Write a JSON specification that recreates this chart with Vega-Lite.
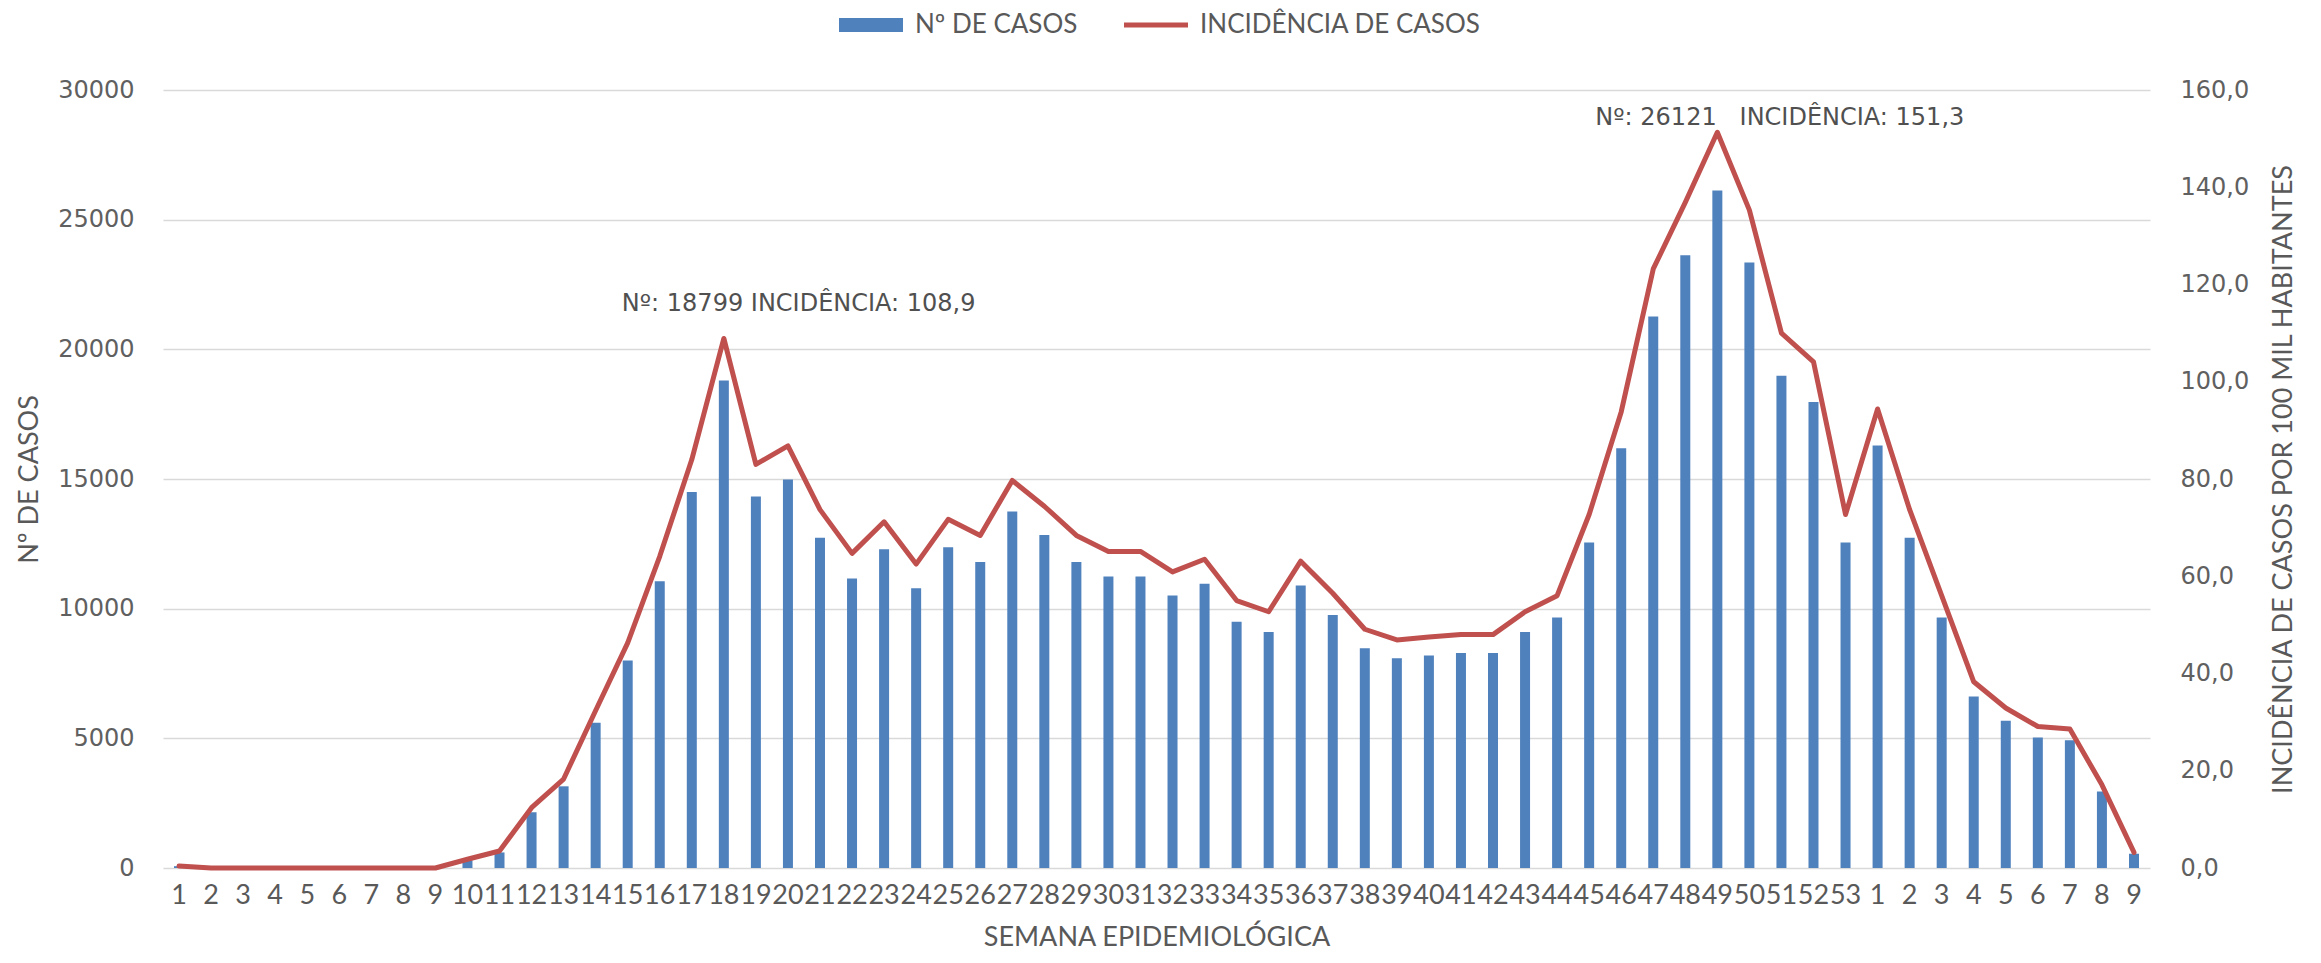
{
  "$schema": "https://vega.github.io/schema/vega-lite/v6.json",
  "width": 1987,
  "height": 778,
  "autosize": {"type": "none"},
  "padding": {"left": 163, "top": 90, "right": 171, "bottom": 95},
  "background": "white",
  "config": {"view": {"stroke": null}, "font": "Lato"},
  "data": {
    "values": [
      {"sem": "A1", "casos": 70, "incidencia": 0.4},
      {"sem": "A2", "casos": 0, "incidencia": 0},
      {"sem": "A3", "casos": 0, "incidencia": 0},
      {"sem": "A4", "casos": 0, "incidencia": 0},
      {"sem": "A5", "casos": 0, "incidencia": 0},
      {"sem": "A6", "casos": 0, "incidencia": 0},
      {"sem": "A7", "casos": 0, "incidencia": 0},
      {"sem": "A8", "casos": 0, "incidencia": 0},
      {"sem": "A9", "casos": 0, "incidencia": 0},
      {"sem": "A10", "casos": 300, "incidencia": 1.8},
      {"sem": "A11", "casos": 600, "incidencia": 3.5},
      {"sem": "A12", "casos": 2150, "incidencia": 12.4},
      {"sem": "A13", "casos": 3150, "incidencia": 18.3},
      {"sem": "A14", "casos": 5600, "incidencia": 32.4},
      {"sem": "A15", "casos": 8000, "incidencia": 46.3},
      {"sem": "A16", "casos": 11060, "incidencia": 64.1},
      {"sem": "A17", "casos": 14500, "incidencia": 84.0},
      {"sem": "A18", "casos": 18799, "incidencia": 108.9, "rotulo": "Nº: 18799 INCIDÊNCIA: 108,9"},
      {"sem": "A19", "casos": 14330, "incidencia": 83.0},
      {"sem": "A20", "casos": 14980, "incidencia": 86.8},
      {"sem": "A21", "casos": 12730, "incidencia": 73.7},
      {"sem": "A22", "casos": 11160, "incidencia": 64.7},
      {"sem": "A23", "casos": 12290, "incidencia": 71.2},
      {"sem": "A24", "casos": 10790, "incidencia": 62.5},
      {"sem": "A25", "casos": 12370, "incidencia": 71.7},
      {"sem": "A26", "casos": 11800, "incidencia": 68.4},
      {"sem": "A27", "casos": 13750, "incidencia": 79.7},
      {"sem": "A28", "casos": 12840, "incidencia": 74.4},
      {"sem": "A29", "casos": 11800, "incidencia": 68.4},
      {"sem": "A30", "casos": 11240, "incidencia": 65.1},
      {"sem": "A31", "casos": 11240, "incidencia": 65.1},
      {"sem": "A32", "casos": 10510, "incidencia": 60.9},
      {"sem": "A33", "casos": 10960, "incidencia": 63.5},
      {"sem": "A34", "casos": 9500, "incidencia": 55.0},
      {"sem": "A35", "casos": 9100, "incidencia": 52.7},
      {"sem": "A36", "casos": 10890, "incidencia": 63.1},
      {"sem": "A37", "casos": 9760, "incidencia": 56.5},
      {"sem": "A38", "casos": 8470, "incidencia": 49.1},
      {"sem": "A39", "casos": 8090, "incidencia": 46.9},
      {"sem": "A40", "casos": 8190, "incidencia": 47.5},
      {"sem": "A41", "casos": 8290, "incidencia": 48.0},
      {"sem": "A42", "casos": 8290, "incidencia": 48.0},
      {"sem": "A43", "casos": 9100, "incidencia": 52.7},
      {"sem": "A44", "casos": 9660, "incidencia": 56.0},
      {"sem": "A45", "casos": 12550, "incidencia": 72.7},
      {"sem": "A46", "casos": 16190, "incidencia": 93.8},
      {"sem": "A47", "casos": 21270, "incidencia": 123.2},
      {"sem": "A48", "casos": 23630, "incidencia": 136.9},
      {"sem": "A49", "casos": 26121, "incidencia": 151.3, "rotulo": "Nº: 26121\u00a0\u00a0\u00a0INCIDÊNCIA: 151,3"},
      {"sem": "A50", "casos": 23350, "incidencia": 135.3},
      {"sem": "A51", "casos": 18980, "incidencia": 110.0},
      {"sem": "A52", "casos": 17970, "incidencia": 104.1},
      {"sem": "A53", "casos": 12550, "incidencia": 72.7},
      {"sem": "B1", "casos": 16290, "incidencia": 94.4},
      {"sem": "B2", "casos": 12730, "incidencia": 73.7},
      {"sem": "B3", "casos": 9660, "incidencia": 56.0},
      {"sem": "B4", "casos": 6610, "incidencia": 38.3},
      {"sem": "B5", "casos": 5680, "incidencia": 32.9},
      {"sem": "B6", "casos": 5030, "incidencia": 29.1},
      {"sem": "B7", "casos": 4930, "incidencia": 28.6},
      {"sem": "B8", "casos": 2950, "incidencia": 17.1},
      {"sem": "B9", "casos": 550, "incidencia": 3.2}
    ]
  },
  "encoding": {
    "x": {
      "field": "sem",
      "type": "nominal",
      "sort": null,
      "scale": {"paddingInner": 0, "paddingOuter": 0},
      "axis": {
        "title": "SEMANA EPIDEMIOLÓGICA",
        "labelExpr": "slice(datum.value, 1)",
        "labelAngle": 0,
        "labelFont": "Lato",
        "labelFontSize": 27,
        "labelColor": "#595959",
        "labelOverlap": false,
        "labelBound": false,
        "labelPadding": 14,
        "ticks": false,
        "domain": false,
        "grid": false,
        "titleFont": "Lato",
        "titleFontSize": 27,
        "titleFontWeight": "normal",
        "titleColor": "#595959",
        "titlePadding": 16
      }
    }
  },
  "layer": [
    {
      "mark": {"type": "bar", "width": 10},
      "encoding": {
        "y": {
          "field": "casos",
          "type": "quantitative",
          "scale": {"domain": [0, 30000]},
          "axis": {
            "title": "Nº DE CASOS",
            "values": [0, 5000, 10000, 15000, 20000, 25000, 30000],
            "format": "d",
            "labelFont": "DejaVu Sans",
            "labelFontSize": 24,
            "labelColor": "#606060",
            "labelPadding": 29,
            "ticks": false,
            "domain": false,
            "grid": true,
            "gridColor": "#d9d9d9",
            "gridWidth": 1.5,
            "titleFont": "Lato",
            "titleFontSize": 27,
            "titleFontWeight": "normal",
            "titleColor": "#595959",
            "titlePadding": 14
          }
        },
        "color": {
          "datum": "Nº DE CASOS",
          "type": "nominal",
          "scale": {"domain": ["Nº DE CASOS", "INCIDÊNCIA DE CASOS"], "range": ["#4f81bd", "#c0504d"]},
          "legend": {
            "orient": "none",
            "legendX": 676,
            "legendY": -97,
            "direction": "horizontal",
            "title": null,
            "labelFont": "Lato",
            "labelFontSize": 26,
            "labelColor": "#595959",
            "labelLimit": 0,
            "labelOffset": 12,
            "columnPadding": 46,
            "symbolSize": 4096,
            "symbolType": "M-1,-0.22H1V0.22H-1Z",
            "symbolStrokeWidth": 0,
            "encode": {
              "symbols": {
                "update": {
                  "shape": {"signal": "datum.value === 'Nº DE CASOS' ? 'M-1,-0.22H1V0.22H-1Z' : 'M-1,-0.08H1V0.08H-1Z'"},
                  "fill": {"signal": "datum.value === 'Nº DE CASOS' ? '#4f81bd' : '#c0504d'"},
                  "stroke": {"value": "transparent"},
                  "opacity": {"value": 1}
                }
              }
            }
          }
        }
      }
    },
    {
      "layer": [
        {
          "mark": {"type": "line", "strokeWidth": 5, "strokeJoin": "round", "strokeCap": "round"},
          "encoding": {
            "y": {
              "field": "incidencia",
              "type": "quantitative",
              "scale": {"domain": [0, 160]},
              "axis": {
                "orient": "right",
                "title": "INCIDÊNCIA DE CASOS POR 100 MIL HABITANTES",
                "values": [0, 20, 40, 60, 80, 100, 120, 140, 160],
                "labelExpr": "replace(format(datum.value, '.1f'), '.', ',')",
                "labelFont": "DejaVu Sans",
                "labelFontSize": 24,
                "labelColor": "#606060",
                "labelPadding": 30,
                "ticks": false,
                "domain": false,
                "grid": false,
                "titleFont": "Lato",
                "titleFontSize": 27,
                "titleFontWeight": "normal",
                "titleColor": "#595959",
                "titleAngle": 270,
                "titleBaseline": "top",
                "titlePadding": 22
              }
            },
            "color": {"datum": "INCIDÊNCIA DE CASOS", "type": "nominal"}
          }
        },
        {
          "transform": [{"filter": "datum.sem === 'A18'"}],
          "mark": {"type": "text", "align": "left", "baseline": "middle", "dx": -102, "dy": -34, "font": "DejaVu Sans", "fontSize": 24, "color": "#505050"},
          "encoding": {
            "y": {"field": "incidencia", "type": "quantitative"},
            "text": {"field": "rotulo"}
          }
        },
        {
          "transform": [{"filter": "datum.sem === 'A49'"}],
          "mark": {"type": "text", "align": "left", "baseline": "middle", "dx": -122, "dy": -14, "font": "DejaVu Sans", "fontSize": 24, "color": "#505050"},
          "encoding": {
            "y": {"field": "incidencia", "type": "quantitative"},
            "text": {"field": "rotulo"}
          }
        }
      ]
    }
  ],
  "resolve": {"scale": {"y": "independent"}}
}
